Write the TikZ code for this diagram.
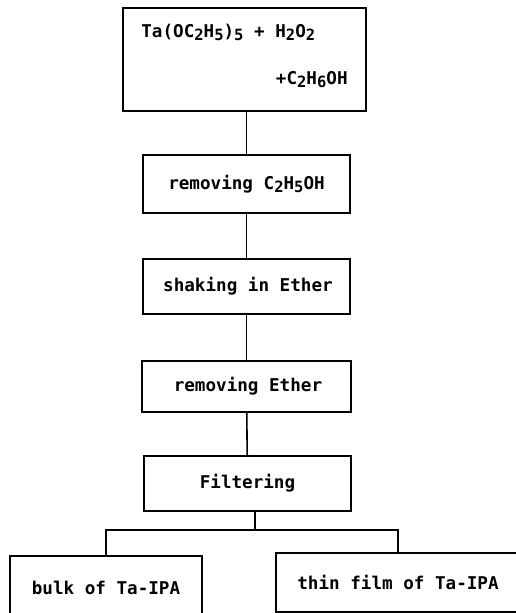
\documentclass[tikz,border=0pt]{standalone}
\usepackage{fontspec}
\usetikzlibrary{positioning, calc}
\newfontfamily\dotfont{DejaVu Sans Mono}[WordSpace={1,0,0}]
\newcommand{\lowsub}[1]{\raisebox{-0.3ex}{\fontsize{15.5}{16}\selectfont #1}}

\begin{document}
\begin{tikzpicture}[x=1pt, y=-1pt,
        stepbox/.style={draw, line width=1.6pt, inner sep=0pt, font=\dotfont\bfseries\fontsize{17.6}{20}\selectfont},
        steptext/.style={inner sep=0pt, font=\dotfont\bfseries\fontsize{17.6}{20}\selectfont},
        link/.style={line width=1.6pt},
    ]
        \useasboundingbox (0,0) rectangle (516,613);
        \fill[white] (0,0) rectangle (516,613);

        % Process steps
        \node[stepbox, minimum width=243pt, minimum height=103pt] (mix) at (244.5,59.5) {};
        \node[steptext, anchor=west] (mixa) at ($(mix.north west)+(19,25)$) {Ta(OC\lowsub{2}H\lowsub{5})\lowsub{5} + H\lowsub{2}O\lowsub{2}};
        \node[steptext, anchor=east] (mixb) at ($(mix.north east)+(-19,72)$) {+C\lowsub{2}H\lowsub{6}OH};
        \node[stepbox, minimum width=207pt, minimum height=58pt] (remeth) at (246.5,184) {removing C\lowsub{2}H\lowsub{5}OH};
        \node[stepbox, minimum width=207pt, minimum height=55pt] (shake) at (246.5,286.5) {\,shaking in Ether};
        \node[stepbox, minimum width=209pt, minimum height=51pt] (remeth2) at (246.5,386.5) {\,removing Ether};
        \node[stepbox, minimum width=207pt, minimum height=55pt] (filter) at (247.5,483.5) {Filtering};

        % Products
        \node[stepbox, minimum width=192pt, minimum height=64pt] (bulk) at (106,588) {bulk of Ta-IPA};
        \node[stepbox, minimum width=244pt, minimum height=59pt] (film) at (398,582.5) {thin film of Ta-IPA};
        \coordinate (split) at (255,530);

        % Connections
        \draw[link] (mix.south -| remeth.north) -- (remeth.north);
        \draw[link] (remeth) -- (shake);
        \draw[link] (shake) -- (remeth2);
        \draw[link] (remeth2) -- (filter);
        \draw[link] (split |- filter.south) -- (split);
        \draw[link] (bulk.north) |- (split) -| (film.north);
    \end{tikzpicture}
\end{document}
